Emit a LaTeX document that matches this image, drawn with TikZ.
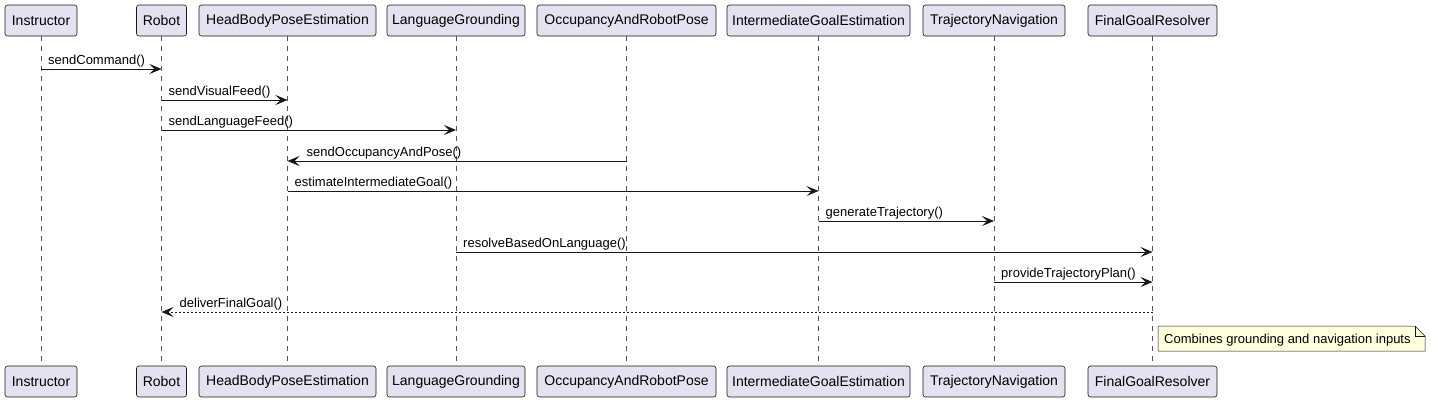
\documentclass[tikz,border=0pt]{standalone}
\usepackage{fontspec}
\setmainfont{Liberation Sans}
\usetikzlibrary{arrows.meta}
\definecolor{partfill}{HTML}{E2E2F0}
\definecolor{partdraw}{HTML}{181818}
\definecolor{lifecol}{HTML}{555555}
\definecolor{notefill}{HTML}{FEFFDD}
\tikzset{
  part/.style={draw=partdraw, fill=partfill, line width=0.6pt, rounded corners=2.5pt,
    minimum height=31pt, inner sep=0pt, font=\fontsize{14}{16}\selectfont},
  life/.style={draw=lifecol, line width=0.5pt, dash pattern=on 5pt off 5pt},
  msg/.style={draw=partdraw, line width=0.9pt, -{Stealth[length=12pt,width=10pt,inset=5pt]}},
  ret/.style={msg, dash pattern=on 2pt off 2pt},
  lbl/.style={inner sep=0pt, anchor=base west, font=\fontsize{13}{15}\selectfont},
  notebox/.style={fill=notefill, draw=partdraw, line width=0.5pt}
}
\begin{document}
\begin{tikzpicture}[x=1pt,y=-1pt]
\useasboundingbox (0,0) rectangle (1431,402);
% participants top
\foreach \n/\c/\w/\t in {I/41/72/Instructor, R/161.5/50/Robot, H/287.5/177/HeadBodyPoseEstimation,
  L/456/138/LanguageGrounding, O/626.5/179/OccupancyAndRobotPose, G/818.5/183/IntermediateGoalEstimation,
  T/994/142/TrajectoryNavigation, F/1152.5/129/FinalGoalResolver}{
  \node[part, minimum width=\w pt] (t\n) at (\c,20.5) {\t};
  \node[part, minimum width=\w pt] (b\n) at (\c,381.5) {\t};
  \draw[life] (t\n.south) -- (b\n.north);
}
% messages
\draw[msg] (tI.south |- 0,69) coordinate (a1) -- (tR.south |- 0,69);
\node[lbl] at ([xshift=7pt,yshift=5pt]a1) {sendCommand()};
\draw[msg] (tR.south |- 0,100) coordinate (a2) -- (tH.south |- 0,100);
\node[lbl] at ([xshift=7pt,yshift=5pt]a2) {sendVisualFeed()};
\draw[msg] (tR.south |- 0,130) coordinate (a3) -- (tL.south |- 0,130);
\node[lbl] at ([xshift=7pt,yshift=5pt]a3) {sendLanguageFeed()};
\draw[msg] (tO.south |- 0,161) -- (tH.south |- 0,161) coordinate (a4);
\node[lbl] at ([xshift=19pt,yshift=5pt]a4) {sendOccupancyAndPose()};
\draw[msg] (tH.south |- 0,191) coordinate (a5) -- (tG.south |- 0,191);
\node[lbl] at ([xshift=7pt,yshift=5pt]a5) {estimateIntermediateGoal()};
\draw[msg] (tG.south |- 0,221) coordinate (a6) -- (tT.south |- 0,221);
\node[lbl] at ([xshift=7pt,yshift=5pt]a6) {generateTrajectory()};
\draw[msg] (tL.south |- 0,252) coordinate (a7) -- (tF.south |- 0,252);
\node[lbl] at ([xshift=7pt,yshift=5pt]a7) {resolveBasedOnLanguage()};
\draw[msg] (tT.south |- 0,282) coordinate (a8) -- (tF.south |- 0,282);
\node[lbl] at ([xshift=7pt,yshift=5pt]a8) {provideTrajectoryPlan()};
\draw[ret] (tF.south |- 0,312) -- (tR.south |- 0,312) coordinate (a9);
\node[lbl] at ([xshift=18pt,yshift=5pt]a9) {deliverFinalGoal()};
% note
\draw[notebox] (1158,326) -- (1415,326) -- (1425,336) -- (1425,351) -- (1158,351) -- cycle;
\draw[partdraw, line width=0.5pt] (1415,326) -- (1415,336) -- (1425,336);
\node[lbl] (note) at (1164,343) {Combines grounding and navigation inputs};
\end{tikzpicture}
\end{document}
